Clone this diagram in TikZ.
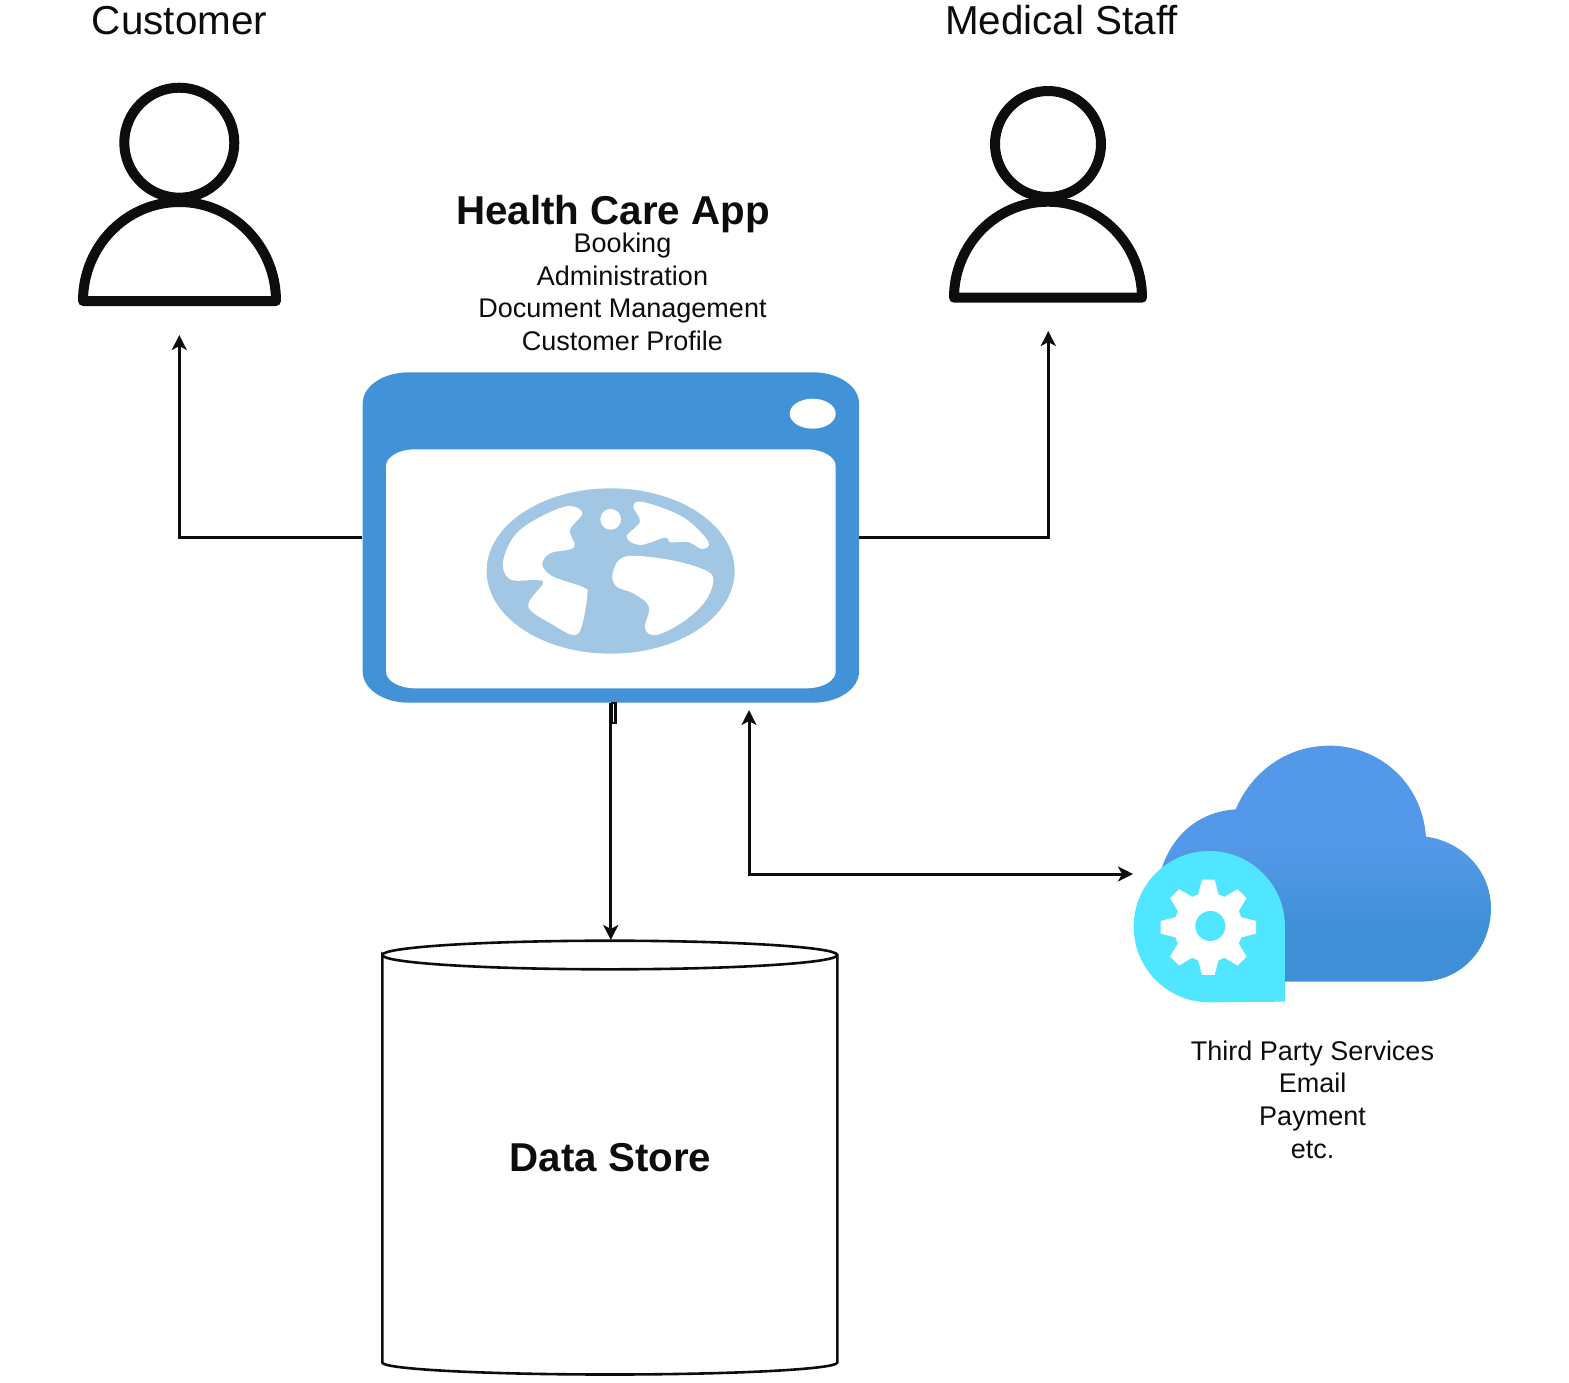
\documentclass[tikz,border=0pt]{standalone}
\usepackage{fontspec}
\setmainfont{Liberation Sans}
\usetikzlibrary{arrows.meta, positioning}
\definecolor{windowblue}{HTML}{4292D8}
\definecolor{globeblue}{HTML}{A1C7E4}
\definecolor{cloudhigh}{HTML}{5499E9}
\definecolor{cloudlow}{HTML}{3F90D6}
\definecolor{gearcyan}{HTML}{50E6FF}
\definecolor{inkblack}{HTML}{0D0D0D}
\pgfdeclareverticalshading{cloudfade}{100bp}{color(0bp)=(cloudlow); color(36.6bp)=(cloudlow); color(54.3bp)=(cloudhigh); color(100bp)=(cloudhigh)}
\tikzset{
  linkline/.style={draw=inkblack, line width=3pt},
  linkarrow/.style={linkline, -{Stealth[length=15pt, width=15pt, inset=4pt]}},
  linkboth/.style={linkline, {Stealth[length=15pt, width=15pt, inset=4pt]}-{Stealth[length=15pt, width=15pt, inset=4pt]}},
  personline/.style={draw=inkblack, line width=10pt, line join=round},
  biglabel/.style={font=\fontsize{40.4}{48}\selectfont, text=inkblack, inner sep=0pt},
  boldlabel/.style={biglabel, font=\fontsize{40.3}{48}\selectfont\bfseries},
  smalllabel/.style={font=\fontsize{27}{32.7}\selectfont, text=inkblack, align=center, inner sep=0pt}
}
\begin{document}
\begin{tikzpicture}[x=1pt, y=-1pt]
  \useasboundingbox (0,0) rectangle (1569,1382);
  % Labels
  \node[biglabel] (customer) at (179.5,20.5) {Customer};
  \node[biglabel] (staff) at (1061.5,20.5) {Medical Staff};
  \node[boldlabel] (apptitle) at (613,214) {Health Care App};
  \node[smalllabel] (appitems) at (622.5,291.8) {Booking\\Administration\\Document Management\\Customer Profile};
  \node[smalllabel] (thirdparty) at (1312.5,1099.5) {Third Party Services\\Email\\Payment\\etc.};
  % Customer icon
  \draw[personline] (179.3,142.7) circle (55);
  \draw[personline] (83,301) arc[x radius=96.5, y radius=99, start angle=180, end angle=360] -- cycle;
  % Medical staff icon
  \draw[personline] (1048,144) circle (53);
  \draw[personline] (954,297.7) arc[x radius=94, y radius=96, start angle=180, end angle=360] -- cycle;
  % App window
  \node[minimum width=496.3pt, minimum height=330.4pt, inner sep=0pt] (app) at (610.8,537.5) {};
  \fill[windowblue] (362.7,403.3) arc[x radius=46, y radius=31, start angle=180, end angle=270]
    -- (813,372.3) arc[x radius=46, y radius=31, start angle=270, end angle=360]
    -- (859,671.7) arc[x radius=46, y radius=31, start angle=0, end angle=90]
    -- (408.7,702.7) arc[x radius=46, y radius=31, start angle=90, end angle=180] -- cycle;
  \fill[white] (386,466.3) arc[x radius=29, y radius=17, start angle=180, end angle=270]
    -- (806.7,449.3) arc[x radius=29, y radius=17, start angle=270, end angle=360]
    -- (835.7,671.3) arc[x radius=29, y radius=17, start angle=0, end angle=90]
    -- (415,688.3) arc[x radius=29, y radius=17, start angle=90, end angle=180] -- cycle;
  \fill[white] (812.7,413.7) ellipse [x radius=23, y radius=15];
  % Globe
  \begin{scope}[shift={(350,360)}, x=0.3333pt, y=-0.3333pt]
    \fill[globeblue] (782,633) ellipse [x radius=372, y radius=248];
    \fill[white] plot[smooth cycle, tension=0.6] coordinates {(640,441) (697,458) (660,510) (672,562) (600,580) (577,615) (610,650) (700,682) (712,705) (695,800) (670,825) (610,795) (535,740) (578,672) (560,660) (480,658) (460,600) (510,510)};
    \fill[white] plot[smooth cycle, tension=0.6] coordinates {(850,440) (880,426) (1000,472) (1075,545) (1055,567) (1015,546) (962,547) (945,533) (870,555) (830,530) (870,485)};
    \fill[white] plot[smooth cycle, tension=0.6] coordinates {(788,640) (825,590) (950,598) (1060,628) (1090,660) (1065,725) (1000,785) (920,825) (885,805) (897,740) (850,700) (800,680)};
    \fill[white] (782,478) circle (31);
  \end{scope}
  % Cloud
  \begin{scope}[shift={(1120,730)}, x=0.3333pt, y=-0.3333pt]
    \shade[shading=cloudfade] (300,755) -- (900,755) .. controls (1030,755) and (1113,650) .. (1113,535)
      .. controls (1113,425) and (1030,335) .. (918,320)
      .. controls (905,150) and (770,47) .. (630,47)
      .. controls (500,47) and (395,125) .. (347,238)
      .. controls (240,245) and (160,310) .. (125,415) -- (125,700) -- cycle;
    \fill[gearcyan] (495,815) -- (495,590) arc[radius=227, start angle=0, end angle=-270] -- cycle;
    \fill[white] (265,592) circle (103);
    \foreach \ang in {0,45,...,315} {
      \fill[white, shift={(265,592)}, rotate=\ang] (-32,-92) -- (-19,-143) -- (19,-143) -- (32,-92) -- cycle;
    }
    \fill[gearcyan] (271,588) circle (45);
  \end{scope}
  % Data store
  \draw[linkline, line width=2.6pt] (382.3,955) arc[x radius=227.5, y radius=14.3, start angle=180, end angle=540]
    -- (382.3,1362.5) arc[x radius=227.5, y radius=12, start angle=180, end angle=0]
    -- (837.3,955);
  \node[boldlabel] (store) at (610.5,1158) {Data Store};
  % End points of the links
  \coordinate (customerin) at (179.3,335);
  \coordinate (staffin) at (1048.3,331);
  \coordinate (storein) at (610.8,940);
  \coordinate (appin) at (749,710);
  \coordinate (cloudin) at (1133,874);
  % Links
  \draw[linkarrow] (app.west) -| (customerin);
  \draw[linkarrow] (app.east) -| (staffin);
  \draw[linkarrow] (app.south) -- (storein);
  \draw[linkboth] (appin) |- (cloudin);
  \draw[draw=inkblack, line width=2.4pt] (app.south) ++(1,0) rectangle ++(3.5,20);
\end{tikzpicture}
\end{document}
